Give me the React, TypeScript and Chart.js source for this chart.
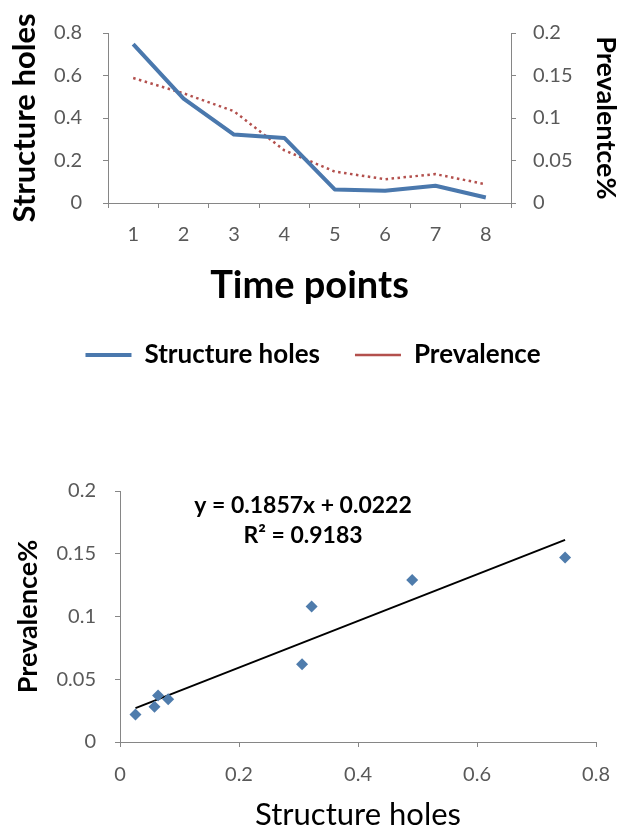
import { useEffect, useRef } from "react";
import { Chart, registerables, type Plugin } from "chart.js";

Chart.register(...registerables);

// --- data ---
const timePoints = ["1", "2", "3", "4", "5", "6", "7", "8"];
const structureHoles = [0.748, 0.491, 0.322, 0.306, 0.064, 0.058, 0.081, 0.026];
const prevalence = [0.147, 0.129, 0.108, 0.062, 0.037, 0.028, 0.034, 0.022];

const holesTicks = [0, 0.2, 0.4, 0.6, 0.8];
const prevTicks = [0, 0.05, 0.1, 0.15, 0.2];

// linear trendline printed on the scatter
const trendSlope = 0.1857;
const trendIntercept = 0.0222;
const trendR2 = 0.9183;

const FONT = "Lato, 'Open Sans', sans-serif";
const AXIS = "#868686";
const TICK = "#595959";
const BLUE = "#4a78ad";
const RED = "#b3504d";

const fmt = (v: number | string) => String(+Number(v).toFixed(3));

const grid = {
  display: true,
  drawOnChartArea: false,
  drawTicks: true,
  tickLength: 5,
  color: AXIS,
  lineWidth: 1,
};
const border = { display: true, color: AXIS, width: 1 };
const tickFont = { family: FONT, size: 20 };

function TimeChart() {
  const canvasRef = useRef<HTMLCanvasElement>(null);

  useEffect(() => {
    if (!canvasRef.current) return;
    const chart = new Chart(canvasRef.current, {
      type: "line",
      data: {
        labels: timePoints,
        datasets: [
          {
            label: "Structure holes",
            data: structureHoles,
            yAxisID: "yHoles",
            borderColor: BLUE,
            backgroundColor: BLUE,
            borderWidth: 4,
            borderJoinStyle: "round",
            pointRadius: 0,
            tension: 0,
          },
          {
            label: "Prevalence",
            data: prevalence,
            yAxisID: "yPrev",
            borderColor: RED,
            backgroundColor: RED,
            borderWidth: 2.5,
            borderDash: [2.5, 3.5],
            pointRadius: 0,
            tension: 0,
          },
        ],
      },
      options: {
        responsive: false,
        animation: false,
        layout: { padding: { top: 19, left: 0, right: 0, bottom: 0 } },
        plugins: {
          tooltip: { enabled: false },
          legend: {
            position: "bottom",
            labels: {
              usePointStyle: true,
              pointStyle: "line",
              pointStyleWidth: 46,
              padding: 35,
              color: "#000",
              font: { family: FONT, size: 26, weight: "bold" },
            },
          },
        },
        scales: {
          x: {
            type: "category",
            offset: true,
            grid: { ...grid, offset: true },
            border,
            ticks: { color: TICK, font: tickFont, padding: 15, maxRotation: 0 },
            title: {
              display: true,
              text: "Time points",
              color: "#000",
              font: { family: FONT, size: 38, weight: "bold", lineHeight: 1 },
              padding: { top: 0, bottom: 2 },
            },
            afterFit: (s) => { s.height = 104; },
          },
          yHoles: {
            type: "linear",
            position: "left",
            min: 0,
            max: 0.8,
            grid,
            border,
            afterBuildTicks: (s) => { s.ticks = holesTicks.map((value) => ({ value })); },
            ticks: { color: TICK, font: tickFont, padding: 21, callback: fmt },
            title: {
              display: true,
              text: "Structure holes",
              color: "#000",
              font: { family: FONT, size: 31, weight: "bold" },
              padding: { top: 6, bottom: 0 },
            },
            afterFit: (s) => { s.width = 108; },
          },
          yPrev: {
            type: "linear",
            position: "right",
            min: 0,
            max: 0.2,
            grid,
            border,
            afterBuildTicks: (s) => { s.ticks = prevTicks.map((value) => ({ value })); },
            ticks: { color: TICK, font: tickFont, padding: 17, callback: fmt },
            title: {
              display: true,
              text: "Prevalentce%",
              color: "#000",
              font: { family: FONT, size: 27, weight: "bold" },
              padding: { top: 4, bottom: 0 },
            },
            afterFit: (s) => { s.width = 115; },
          },
        },
      },
    });
    return () => chart.destroy();
  }, []);

  return <canvas ref={canvasRef} width={626} height={378} style={{ display: "block" }} />;
}

// draws the regression equation in the upper part of the plot
const equationPlugin: Plugin<"scatter"> = {
  id: "equation",
  afterDatasetsDraw(chart) {
    const { ctx, chartArea } = chart;
    const cx = chartArea.left + 183;
    ctx.save();
    ctx.textAlign = "center";
    ctx.textBaseline = "middle";
    ctx.fillStyle = "#000";
    ctx.font = `bold 23px ${FONT}`;
    ctx.fillText(`y = ${trendSlope}x + ${trendIntercept}`, cx, chartArea.top + 15);
    ctx.fillText(`R\u00b2 = ${trendR2}`, cx, chartArea.top + 45);
    ctx.restore();
  },
};

function ScatterChart() {
  const canvasRef = useRef<HTMLCanvasElement>(null);

  useEffect(() => {
    if (!canvasRef.current) return;
    const points = structureHoles.map((x, i) => ({ x, y: prevalence[i] }));
    const xMin = Math.min(...structureHoles);
    const xMax = Math.max(...structureHoles);
    const trend = [xMin, xMax].map((x) => ({ x, y: trendSlope * x + trendIntercept }));

    const chart = new Chart(canvasRef.current, {
      type: "scatter",
      plugins: [equationPlugin],
      data: {
        datasets: [
          {
            label: "Prevalence",
            data: points,
            pointStyle: "rectRot",
            pointRadius: 6,
            backgroundColor: "#4f7cac",
            borderWidth: 0,
            order: 0,
          },
          {
            label: "Linear",
            data: trend,
            showLine: true,
            borderColor: "#000",
            borderWidth: 2,
            pointRadius: 0,
            order: 1,
          },
        ],
      },
      options: {
        responsive: false,
        animation: false,
        layout: { padding: { top: 30, left: 0, right: 21, bottom: 0 } },
        plugins: { legend: { display: false }, tooltip: { enabled: false } },
        scales: {
          x: {
            type: "linear",
            min: 0,
            max: 0.8,
            grid,
            border,
            afterBuildTicks: (s) => { s.ticks = holesTicks.map((value) => ({ value })); },
            ticks: { color: TICK, font: tickFont, padding: 16, callback: fmt, maxRotation: 0 },
            title: {
              display: true,
              text: "Structure holes",
              color: "#000",
              font: { family: FONT, size: 31, lineHeight: 0.9 },
              padding: { top: 0, bottom: 0 },
            },
            afterFit: (s) => { s.height = 87; },
          },
          y: {
            type: "linear",
            min: 0,
            max: 0.2,
            grid,
            border,
            afterBuildTicks: (s) => { s.ticks = prevTicks.map((value) => ({ value })); },
            ticks: { color: TICK, font: tickFont, padding: 19, callback: fmt },
            title: {
              display: true,
              text: "Prevalence%",
              color: "#000",
              font: { family: FONT, size: 27, weight: "bold" },
              padding: { top: 12, bottom: 0 },
            },
            afterFit: (s) => { s.width = 120; },
          },
        },
      },
    });
    return () => chart.destroy();
  }, []);

  return <canvas ref={canvasRef} width={626} height={369} style={{ display: "block" }} />;
}

export default function App() {
  return (
    <div style={{ position: "absolute", left: 0, top: 0, width: 626, height: 829, background: "#fff" }}>
      <div style={{ position: "absolute", left: 0, top: 0 }}>
        <TimeChart />
      </div>
      <div style={{ position: "absolute", left: 0, top: 460 }}>
        <ScatterChart />
      </div>
    </div>
  );
}
